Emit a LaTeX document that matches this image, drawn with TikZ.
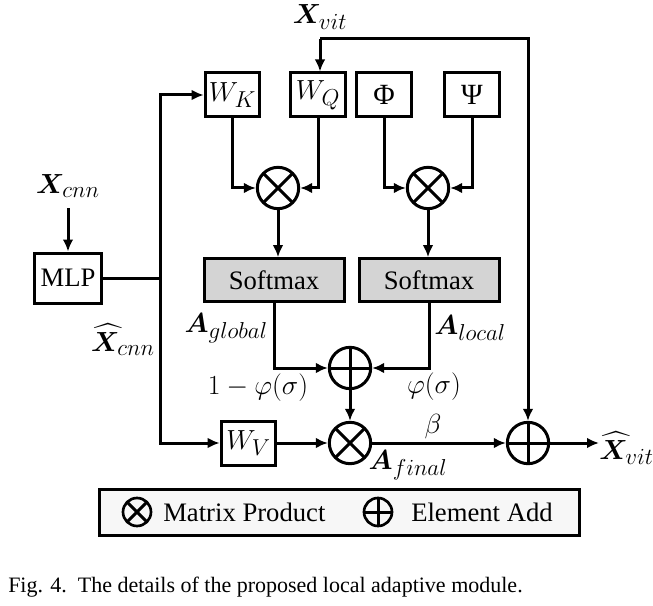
\documentclass[tikz,border=0pt]{standalone}
\usepackage{fontspec}
\setmainfont{Liberation Serif}
\usepackage{amsmath,bm}
\usetikzlibrary{arrows.meta}
\DeclareMathSizes{21}{21}{16.5}{13}
\DeclareMathSizes{22}{22}{17}{13}
\tikzset{
    every node/.style={inner sep=0mm, font=\fontsize{20}{24}\selectfont},
    box/.style={rectangle, draw, line width=2.25pt, minimum width=41pt, minimum height=33pt},
    soft/.style={box, fill=black!17, minimum width=105pt, minimum height=32pt},
    mult/.style={circle, draw, line width=2.25pt, minimum size=31pt,
        path picture={\draw[line width=2.25pt] (path picture bounding box.north west) -- (path picture bounding box.south east)
            (path picture bounding box.south west) -- (path picture bounding box.north east);}},
    plus/.style={circle, draw, line width=2.25pt, minimum size=31pt,
        path picture={\draw[line width=2.25pt] (path picture bounding box.north) -- (path picture bounding box.south)
            (path picture bounding box.west) -- (path picture bounding box.east);}},
    legsym/.style={minimum size=21pt, line width=2pt},
    lbl/.style={font=\fontsize{21}{24}\selectfont},
    mbox/.style={box, font=\fontsize{22}{24}\selectfont},
    ln/.style={line width=2.25pt},
    arr/.style={line width=2.25pt, -{Latex[length=9pt,width=8pt]}}
}

\begin{document}
\begin{tikzpicture}[x=0.75pt, y=-0.75pt]
        \useasboundingbox (0,0) rectangle (653,606);
        % inputs
        \node[lbl] (xcnn) at (68,186) {$\bm{X}_{cnn}$};
        \node[lbl] (xvit) at (320,17) {$\bm{X}_{vit}$};
        \coordinate (vitin) at (320,39);
        \node[box, minimum width=50pt, minimum height=37.5pt] (mlp) at (68,278) {MLP};
        \coordinate (split) at (160,278);
        % projections
        \node[mbox] (wk) at (232.5,95) {$W_K$};
        \node[mbox] (wq) at (318,95) {$W_Q$};
        \node[mbox] (phi) at (384,95) {Φ};
        \node[mbox] (psi) at (472,95) {Ψ};
        \node[mult] (m1) at (278,188) {};
        \node[mult] (m2) at (428,188) {};
        \node[soft] (sm1) at (274,280) {Softmax};
        \node[soft] (sm2) at (429,280) {Softmax};
        \node[plus] (add1) at (350,368) {};
        \node[mbox] (wv) at (248.5,443) {$W_V$};
        \node[mult] (m3) at (350,443) {};
        \node[plus] (add2) at (528,443) {};
        \node[lbl, anchor=west] (xvithat) at (599,448) {$\widehat{\bm{X}}_{vit}$};
        % labels
        \node[lbl, anchor=east] (xcnnhat) at (155,340) {$\widehat{\bm{X}}_{cnn}$};
        \node[lbl, anchor=east] (aglob) at (268,328) {$\bm{A}_{global}$};
        \node[lbl, anchor=west] (aloc) at (434,328) {$\bm{A}_{local}$};
        \node[lbl] (wglob) at (258,388) {$1-\varphi(\sigma)$};
        \node[lbl] (wloc) at (434,387) {$\varphi(\sigma)$};
        \node[lbl] (beta) at (433,427) {$\beta$};
        \node[lbl] (afin) at (408,465) {$\bm{A}_{final}$};
        % legend
        \node[box, fill=black!3, minimum width=360pt, minimum height=34.5pt] (legend) at (339.5,512.5) {};
        \node[mult, legsym] (legm) at (137,512) {};
        \node[anchor=west] (legmt) at (163,512) {Matrix Product};
        \node[plus, legsym] (lega) at (378,512) {};
        \node[anchor=west] (legat) at (411,512) {Element Add};
        \node[anchor=base west, font=\fontsize{16.5}{18}\selectfont] (caption) at (8,592)
                {Fig. 4.\ \ The details of the proposed local adaptive module.};
        % connectors
        \draw[arr] (xcnn.south |- 0,208) -- (mlp.north);
        \draw[ln] (mlp.east) -- (split);
        \draw[arr] (split) |- (wk.west);
        \draw[arr] (split) |- (wv.west);
        \draw[arr] (vitin) -- (vitin |- wq.north);
        \draw[arr] (vitin) -| (add2.north);
        \draw[arr] (wk.south) |- (m1.west);
        \draw[arr] (wq.south) |- (m1.east);
        \draw[arr] (phi.south) |- (m2.west);
        \draw[arr] (psi.south) |- (m2.east);
        \draw[arr] (m1.south) -- (m1.south |- sm1.north);
        \draw[arr] (m2.south) -- (m2.south |- sm2.north);
        \draw[arr] (sm1.south) |- (add1.west);
        \draw[arr] (sm2.south) |- (add1.east);
        \draw[arr] (add1.south) -- (m3.north);
        \draw[arr] (wv.east) -- (m3.west);
        \draw[arr] (m3.east) -- (add2.west);
        \draw[arr] (add2.east) -- (add2.east -| xvithat.west);
\end{tikzpicture}
\end{document}
